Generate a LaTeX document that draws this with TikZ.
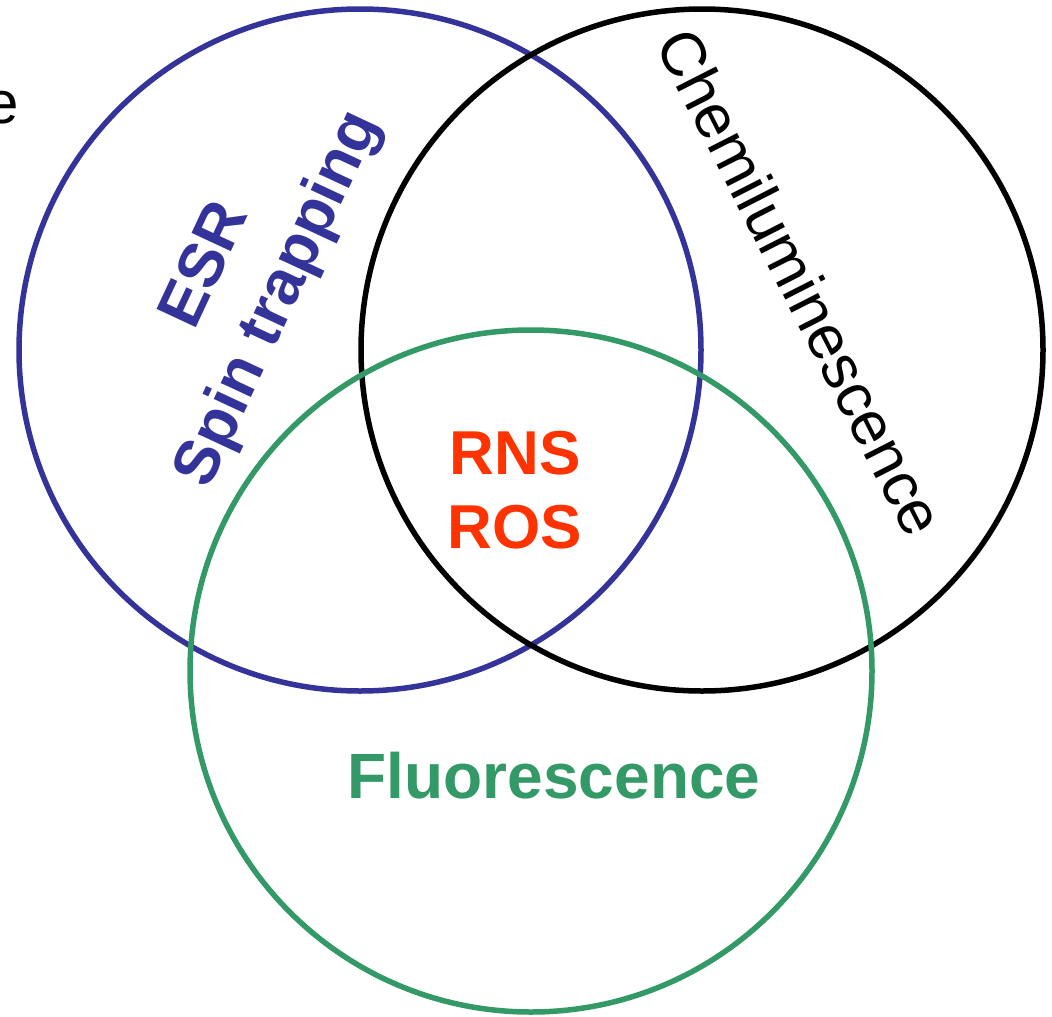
\documentclass[tikz,border=0pt]{standalone}
\usepackage{fontspec}
\setmainfont{Liberation Sans}
\definecolor{cblue}{HTML}{333399}
\definecolor{cgreen}{HTML}{339966}
\definecolor{cred}{HTML}{FF3300}
\tikzset{
  ring/.style={draw=#1, line width=5.5pt, fill=none},
  lbl/.style={font=\fontsize{62}{74}\selectfont, align=center, inner sep=0pt}
}
\begin{document}
\begin{tikzpicture}[x=1pt,y=-1pt]
\useasboundingbox (0,0) rectangle (1052,1017);
\node[ring=cblue, circle, minimum size=682pt, inner sep=0pt] (esr) at (360,350) {};
\node[ring=black, circle, minimum size=682pt, inner sep=0pt] (chem) at (702,350) {};
\node[ring=cgreen, circle, minimum size=682pt, inner sep=0pt] (fluo) at (531,671) {};
\node[lbl, text=cblue, rotate=65, font=\fontsize{63}{80}\selectfont] (esrlbl) at (244,283) {\bfseries ESR\\\bfseries Spin trapping};
\node[lbl, text=black, rotate=-63, font=\fontsize{62}{70}\selectfont] (chemlbl) at (801,282) {Chemiluminescence};
\node[lbl, text=cred] (center) at (515,490) {\bfseries RNS\\\bfseries ROS};
\node[lbl, text=cgreen, anchor=base, font=\fontsize{64}{74}\selectfont] (fluolbl) at (554,798) {\bfseries Fluorescence};
\node[lbl, anchor=base east, font=\fontsize{60}{70}\selectfont] (cut) at (19,123) {e};
\end{tikzpicture}
\end{document}
